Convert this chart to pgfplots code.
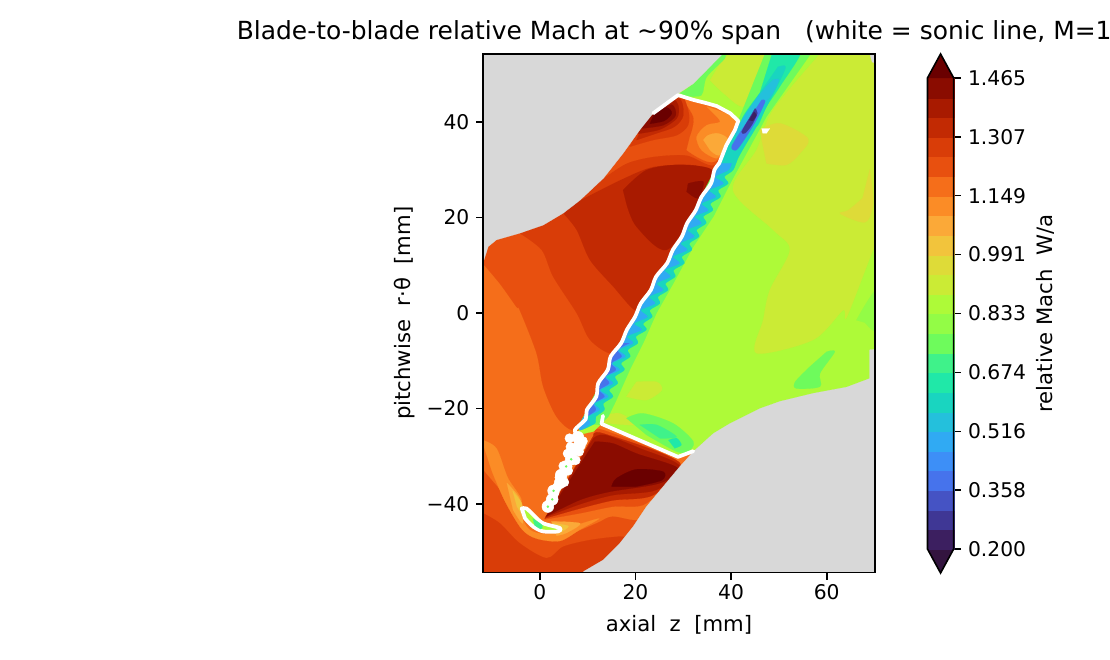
\documentclass[border=0pt]{standalone}
\usepackage{fontspec}
\setmainfont{DejaVu Sans}
\usepackage{pgfplots}
\pgfplotsset{compat=1.18}

% contour levels, bottom to top
\definecolor{cbunder}{HTML}{33143F}
\definecolor{cb0}{HTML}{3C1F60}
\definecolor{cb1}{HTML}{3F3795}
\definecolor{cb2}{HTML}{4553C4}
\definecolor{cb3}{HTML}{4673EC}
\definecolor{cb4}{HTML}{3D8FF7}
\definecolor{cb5}{HTML}{30AAF3}
\definecolor{cb6}{HTML}{24C0DC}
\definecolor{cb7}{HTML}{19D5C0}
\definecolor{cb8}{HTML}{20E8A8}
\definecolor{cb9}{HTML}{3FF28A}
\definecolor{cb10}{HTML}{6EFB5C}
\definecolor{cb11}{HTML}{93FC46}
\definecolor{cb12}{HTML}{AEFA38}
\definecolor{cb13}{HTML}{CBEB35}
\definecolor{cb14}{HTML}{DEDB38}
\definecolor{cb15}{HTML}{F2C43C}
\definecolor{cb16}{HTML}{FBA938}
\definecolor{cb17}{HTML}{FB8C26}
\definecolor{cb18}{HTML}{F56E1A}
\definecolor{cb19}{HTML}{E8500F}
\definecolor{cb20}{HTML}{D93D08}
\definecolor{cb21}{HTML}{C22A03}
\definecolor{cb22}{HTML}{A81A00}
\definecolor{cb23}{HTML}{8A0C00}
\definecolor{cbover}{HTML}{6A0000}
\definecolor{maskgray}{HTML}{D8D8D8}

\pgfplotsset{
  reg/.style={fill=#1,draw=#1,line width=.1pt},
  sreg/.style={fill=#1,draw=#1,line width=.1pt,smooth,tension=0.5},
  sonic/.style={white,line width=2.8pt,line join=round,line cap=round},
}

\begin{document}
\begin{tikzpicture}
\begin{axis}[
    at={(362.25pt,65.6pt)}, anchor=south west,
    scale only axis, width=294pt, height=388.9pt,
    xmin=-11.9, xmax=70.1, ymin=-54.3, ymax=54.2,
    xtick={0,20,40,60}, xticklabels={0,20,40,60},
    ytick={-40,-20,0,20,40}, yticklabels={−40,−20,0,20,40},
    tick align=outside, tick pos=left,
    major tick length=5.25pt,
    tick style={black,line width=1.2pt},
    axis line style={line width=1.2pt},
    axis on top,
    axis background/.style={fill=maskgray},
    tick label style={font=\fontsize{15.2}{18}\selectfont},
    yticklabel style={xshift=-1.5pt},
    title={Blade-to-blade relative Mach at \textasciitilde90\% span\ \ \ (white = sonic line, M=1)},
    title style={font=\fontsize{18.7}{22}\selectfont,at={(axis description cs:0.5,1.0405)},anchor=center,yshift=-6pt},
    xlabel={axial\ \ z\ \ [mm]},
    xlabel style={font=\fontsize{15.9}{18}\selectfont,at={(axis description cs:0.5,-0.101)},anchor=center},
    ylabel={pitchwise\ \ r·θ\ \ [mm]},
    ylabel style={font=\fontsize{15.9}{18}\selectfont,at={(axis description cs:-0.199,0.5)},anchor=center},
]
% upstream side
\addplot[reg=cb18] coordinates {(-13,-56)(50,-56)(50,56)(-13,56)} --cycle;
\addplot[sreg=cb19] coordinates {(-12.55,11.1)(-8.4,6.2)(-4.9,1.3)(-4.2,0.6)(-0.7,-8.4)(0.7,-15.4)(3.5,-21.7)(7,-24.5)(10.5,-21)(29.3,6.2)(43.2,41.1)(36.3,55)(-12.55,55)} --cycle;
\addplot[sreg=cb20] coordinates {(-4.2,16.7)(0.4,13.2)(2.8,7.6)(7.7,0)(10.5,-5.6)(15,-8.4)(18.1,-4.3)(43.2,41.1)(36.3,55)(-4.2,55)} --cycle;
\addplot[sreg=cb21] coordinates {(4.9,20.9)(7.7,17.4)(10.5,11.1)(15.4,5.5)(19.9,0.6)(21.6,3.1)(43.2,41.1)(36.3,55)(4.9,55)} --cycle;
\addplot[sreg=cb20] coordinates {(8.4,23.6)(16.7,27.8)(23.7,30.6)(32.1,31)(36.3,29.6)(39.8,37.6)(22.3,41.1)(8.4,30.6)} --cycle;
\addplot[sreg=cb19] coordinates {(13.3,28.2)(18.1,31.3)(23.7,32.7)(30.7,33)(36.6,31)(40.4,37.6)(29.3,46.7)(15.3,34.1)} --cycle;
\addplot[sreg=cb18] coordinates {(30.7,34.1)(36.6,31.7)(42.5,40.4)(35.6,46)(28.6,47.4)(32.1,41.1)(31.4,36.9)} --cycle;
\addplot[sreg=cb20] coordinates {(18.8,34.8)(23.7,36.2)(28.6,37.2)(31,39.3)(31,42.5)(28.9,46)(22.3,41.8)} --cycle;
\addplot[sreg=cb21] coordinates {(20.2,36.2)(24.4,37.6)(28.2,39)(30,41.4)(28.9,44.9)(22.3,41.1)} --cycle;
\addplot[sreg=cb22] coordinates {(20.4,37.5)(25.1,38.4)(28.6,40.7)(29,43.2)(27.6,44.6)(22.7,41)} --cycle;
\addplot[sreg=cb23] coordinates {(21,38.6)(25.8,39.3)(28.4,41.3)(27.6,43.6)(24,42)} --cycle;
\addplot[sreg=cbover] coordinates {(23,39.6)(26,40.2)(27.6,41.8)(26.5,43)(24,41.8)} --cycle;
\addplot[sreg=cb17] coordinates {(34.9,43.2)(39.8,41.4)(41.1,40.2)(38.7,35.5)(37.1,32.4)(33.8,34.1)(32.8,36.9)(34.9,39.3)(37.7,40)(36.3,41.8)} --cycle;
\addplot[sreg=cb16] coordinates {(34.2,36.2)(35.2,37.2)(37.3,37.6)(39.4,36.2)(37.5,33)(35.6,34.1)} --cycle;
\addplot[sreg=cb22] coordinates {(17.4,25.7)(22.3,29.9)(29.3,31)(36.3,29.6)(32.8,22.3)(26.5,13.2)(20.2,18.1)(18.1,22.9)} --cycle;
\addplot[sreg=cb23] coordinates {(31,27.1)(34.2,27.5)(33.1,24)(30.7,25.4)} --cycle;
% below the leading edge
\addplot[sreg=cb19] coordinates {(-12.55,-31)(-11.9,-32.8)(-8.4,-37)(-5.6,-41.2)(-3.5,-45.4)(0,-46.8)(4.9,-46.8)(11.9,-44)(15.3,-42.6)(20.9,-44)(16.7,-49.6)(9.1,-54.5)(-12.55,-54.5)} --cycle;
\addplot[sreg=cb20] coordinates {(-11.9,-41.9)(-8.4,-44)(-4.2,-48.2)(1.4,-51.3)(4.9,-48.9)(10.5,-47.5)(16.7,-46.8)(18.1,-47.5)(13.9,-51)(9.1,-54.5)(-12.55,-54.5)} --cycle;
\addplot[sreg=cb17] coordinates {(-12.2,-26.5)(-9.1,-28.3)(-6.7,-34.5)(-3.9,-38.9)(-3.8,-42.6)(-2.1,-45.4)(1.4,-46.2)(6.9,-44.6)(12.4,-43)(8.4,-45.3)(4.2,-47.7)(-0.7,-47.2)(-3.8,-45.2)(-7.3,-39.4)(-10,-33.2)} --cycle;
\addplot[sreg=cb16] coordinates {(-6.9,-35.6)(-4.2,-38.9)(-3.6,-44)(-5.6,-41.2)} --cycle;
\addplot[sreg=cb15] coordinates {(-5.7,-37.2)(-3.8,-39.8)(-3.6,-42.2)(-4.8,-40.5)} --cycle;
\addplot[sreg=cb16] coordinates {(2.4,-43.6)(8.4,-44)(5.6,-46)(3.5,-46.6)} --cycle;
\addplot[sreg=cb15] coordinates {(2.8,-44)(6,-44.6)(4.2,-46)} --cycle;
% wedge under the passage shock
\addplot[sreg=cb18] coordinates {(0.7,-43.4)(12.6,-23.4)(29.3,-30.4)(22.3,-41.2)(20.2,-43.3)(14,-42.3)(7,-43)} --cycle;
\addplot[sreg=cb19] coordinates {(1,-43.2)(8.4,-41.9)(15.3,-40.5)(22.3,-39.8)(28.6,-31.4)(13.3,-24.5)(11.5,-25.2)} --cycle;
\addplot[sreg=cb21] coordinates {(1,-43)(8.4,-40.9)(15.3,-39.2)(23.7,-38.1)(29.3,-31.4)(13.3,-25.2)(11.2,-25.7)} --cycle;
\addplot[sreg=cb22] coordinates {(1.2,-42.7)(8.4,-40)(15.3,-38.1)(24.4,-37)(29.3,-32.1)(20.9,-28.3)(13.6,-25.5)(11.2,-26.2)} --cycle;
\addplot[sreg=cb23] coordinates {(1.4,-42.5)(8.4,-39.1)(14.6,-37.4)(25.1,-35.6)(28.9,-32.5)(20.2,-29.4)(15.3,-27.3)(11.5,-26.9)} --cycle;
\addplot[sreg=cbover] coordinates {(15,-36.3)(16,-34.6)(20.2,-32.7)(25.8,-33.2)(25.5,-35)(20.2,-36.3)} --cycle;
% downstream side
\addplot[reg=cb12] coordinates {(28.9,45.9)(34.9,43.9)(39.8,41.8)(41.5,40.2)(39,35.1)(37.3,31.3)(36.6,29.9)(35.6,27.1)(34,24.3)(32.4,21.5)(31,18.8)(29.5,16)(28,13.2)(26.4,10.4)(24.5,7.6)(23,4.8)(21.3,2)(19.7,-0.8)(18.5,-3.5)(16.7,-6.3)(15.1,-9.1)(13.9,-11.9)(12.5,-14.7)(11.5,-17.5)(10.1,-20.3)(8.4,-23.1)(8,-25.5)(11.2,-24.8)(12.9,-23.2)(28.9,-30.1)(32.1,-29)(75,-29)(75,60)(28.9,60)} --cycle;
\addplot[sreg=cb13] coordinates {(37.7,52.2)(40.4,54.5)(47.4,54.5)(44.6,48.1)(42.5,43.2)(38.4,46)(35.6,48.7)} --cycle;
\addplot[sreg=cb10] coordinates {(29.3,46)(32.1,48)(37.7,54)(38.7,53.3)(34.9,49.4)(33.8,45.6)(30.7,45.4)} --cycle;
\addplot[sreg=cb13] coordinates {(59.3,55)(48.8,42.5)(45.3,34.1)(40.4,25.7)(48.8,17.4)(52.3,13.2)(48.1,4.8)(46.7,-1.5)(45.3,-8.4)(57.2,-5.6)(63.4,0.6)(64.2,-0.8)(69.7,13.2)(70.5,13.9)(71,56)} --cycle;
\addplot[sreg=cb14] coordinates {(46,38.3)(50.2,39.7)(56.1,36.5)(54.4,33.4)(51.6,31)(47.4,31.3)} --cycle;
\addplot[sreg=cb14] coordinates {(69,30)(69.7,23)(68,19)(62.8,20.8)(64.5,21.5)(67.5,24)} --cycle;
\addplot[sreg=cb11] coordinates {(66.2,-1.5)(70.4,4.8)(70.4,-3.6)(68,-2)} --cycle;
\addplot[sreg=cb10] coordinates {(60,-8.1)(61.7,-8.1)(58.6,-12.6)(58.6,-15.4)(53.7,-15.8)(53.4,-14.4)(56.5,-11.2)} --cycle;
\addplot[sreg=cb13] coordinates {(20.2,-14.4)(24.4,-14.4)(25.5,-16.1)(22.3,-18.2)(18.1,-17.5)} --cycle;
\addplot[sreg=cb13] coordinates {(13.4,-21.5)(16.7,-21)(20.2,-23.4)(13.4,-23)} --cycle;
\addplot[sreg=cb10] coordinates {(18.1,-22)(21.6,-21)(27.9,-23.1)(32.1,-26.9)(31,-29)(28.6,-29)(22.3,-25.5)} --cycle;
\addplot[sreg=cb9] coordinates {(20.9,-23.4)(24.4,-23.4)(28.6,-25.9)(25.1,-26.2)} --cycle;
\addplot[sreg=cb8] coordinates {(26.9,-26.6)(28.6,-26.2)(29.6,-27.6)(28.2,-28.3)} --cycle;
% wake stripe behind the shock
\addplot[reg=cb10] coordinates {(47.4,55)(57.2,55)(47.4,41.1)(43.2,33.4)(39.8,27.1)(36.3,20.2)(32.1,13.9)(27.9,6.2)(24.4,0)(21.6,-6.3)(18.8,-11.9)(16,-18.2)(14.3,-21.7)(12.6,-23.4)(8.4,-23.1)(19.7,-0.8)(28,13.2)(37.3,31.3)(41.5,40.2)} --cycle;
\addplot[sreg=cb8] coordinates {(48.8,55)(54.7,55)(50.2,47.4)(47.4,43.2)(45.3,39)(42.2,40.4)(46,46)} --cycle;
\addplot[sreg=cb7] coordinates {(49.8,51.5)(51.4,51.5)(49.5,47.2)(47.4,43.2)(45.3,39)(43.2,35.5)(41.5,32.5)(40.4,29.9)(38.6,28.5)(39.4,27.1)(37.3,25.7)(37.8,24.3)(35.7,22.9)(36.2,21.5)(34.2,20.2)(34.8,18.8)(32.8,17.4)(33.3,16)(31.3,14.6)(31.8,13.2)(29.7,11.8)(30.2,10.4)(28,9)(28.3,7.6)(26.3,6.2)(26.8,4.8)(24.7,3.4)(25.1,2)(23,0.6)(23.5,-0.8)(21.6,-2.2)(22.3,-3.5)(20.1,-4.9)(20.5,-6.3)(18.4,-7.7)(18.9,-9.1)(17,-10.5)(17.7,-11.9)(15.7,-13.3)(16.3,-14.7)(14.5,-16.1)(15.3,-17.5)(13.3,-18.9)(13.5,-20.3)(11.7,-21.7)(11.5,-23.1)(8.4,-24.5)(8.4,-23.1)(10.1,-20.3)(11.5,-17.5)(12.5,-14.7)(13.9,-11.9)(15.1,-9.1)(16.7,-6.3)(18.5,-3.5)(19.7,-0.8)(21.3,2)(23,4.8)(24.5,7.6)(26.4,10.4)(28,13.2)(29.5,16)(31,18.8)(32.4,21.5)(34,24.3)(35.6,27.1)(37.3,31.3)(39,35.1)(41.5,39)(43.2,41.8)(46,46)} --cycle;
\addplot[sreg=cb6] coordinates {(48.8,48.8)(50,48.8)(48.6,45.8)(46.7,43.4)(43.9,38.5)(41.8,35.6)(41.1,38.3)(44.6,43.9)(47.4,47.4)} --cycle;
\addplot[sreg=cb5] coordinates {(40.1,31.3)(39.4,29.9)(36.7,28.5)(38.4,27.1)(35.4,25.7)(36.8,24.3)(33.8,22.9)(35.2,21.5)(32.3,20.2)(33.8,18.8)(30.9,17.4)(32.3,16)(29.4,14.6)(30.8,13.2)(27.8,11.8)(29.2,10.4)(26.1,9)(27.3,7.6)(24.4,6.2)(25.8,4.8)(22.8,3.4)(24.1,2)(21.1,0.6)(22.5,-0.8)(19.7,-2.2)(21.3,-3.5)(18.2,-4.9)(19.5,-6.3)(16.5,-7.7)(17.9,-9.1)(15.1,-10.5)(16.7,-11.9)(13.8,-13.3)(15.3,-14.7)(12.6,-16.1)(14.3,-17.5)(11.4,-18.9)(12.5,-20.3)(9.8,-21.7)(10.5,-23.1)(8.4,-24.5)(8.4,-23.1)(10.1,-20.3)(11.5,-17.5)(12.5,-14.7)(13.9,-11.9)(15.1,-9.1)(16.7,-6.3)(18.5,-3.5)(19.7,-0.8)(21.3,2)(23,4.8)(24.5,7.6)(26.4,10.4)(28,13.2)(29.5,16)(31,18.8)(32.4,21.5)(34,24.3)(35.6,27.1)(37.3,31.3)} --cycle;
\addplot[sreg=cb3] coordinates {(18.7,-6.3)(16.2,-7.7)(17.1,-9.1)(14.9,-10.5)(15.9,-11.9)(13.6,-13.3)(14.5,-14.7)(12.4,-16.1)(13.5,-17.5)(11.2,-18.9)(11.7,-20.3)(9.6,-21.7)(10.1,-20.3)(11.5,-17.5)(12.5,-14.7)(13.9,-11.9)(15.1,-9.1)(16.7,-6.3)} --cycle;
\addplot[sreg=cb3] coordinates {(46.4,44.6)(47.1,44.2)(45.3,40.4)(42.9,36.5)(41.1,34.1)(40.1,34.8)(42.2,38.3)(44.3,41.4)} --cycle;
\addplot[sreg=cb1] coordinates {(45,42.8)(45.5,41.8)(44.3,39.3)(42.9,37.6)(42.2,37.9)(43.6,40.4)} --cycle;
\addplot[sreg=cb0] coordinates {(44.8,42.1)(45.3,41.4)(44.5,40.2)(43.8,40.4)} --cycle;
% no-data masks
\addplot[reg=maskgray] coordinates {(-13,56)(-13,11.1)(-11.7,11.1)(-10.8,13.9)(-9.1,15.3)(-4.2,16.7)(0.7,18.4)(4.9,20.9)(8.4,23.6)(13.3,28.2)(17.4,33.4)(20.9,38.3)(23.7,41.8)(28.9,45.9)(32.1,48)(38,54)(38.6,56)} --cycle;
\addplot[reg=maskgray] coordinates {(71,-7.5)(69,-7.7)(69,-13.7)(64.2,-15.5)(57.2,-16.8)(50.2,-18.5)(46,-20)(39.8,-23.1)(36.3,-25.2)(32.1,-29)(29.3,-32.1)(25.8,-36.3)(22.3,-40.5)(19.5,-44.7)(16.7,-48.2)(13.2,-51.7)(9.1,-54.1)(9.1,-56)(71,-56)} --cycle;
\addplot[reg=maskgray] coordinates {(68.8,55)(71,55)(71,52)(69.5,52.5)} --cycle;
% sonic line
\addplot[sonic] coordinates {(23.7,41.8)(28.9,45.6)(32.1,44.6)(34.9,43.9)(37,43.3)(39.8,41.8)(41.5,40.2)(40.8,38.3)(39,35.1)(37.5,31.3)};
\addplot[sonic,smooth,tension=0.5] coordinates {(37.5,31.3)(36.5,29.9)(35.8,27.1)(33.8,24.3)(32.6,21.5)(30.8,18.8)(29.7,16)(27.8,13.2)(26.6,10.4)(24.3,7.6)(23.2,4.8)(21.1,2)(19.9,-0.8)(18.2,-3.5)(17,-6.3)(14.8,-9.1)(14.2,-11.9)(12.2,-14.7)(11.8,-17.5)(9.8,-20.3)(9.6,-22.2)(7.3,-24.5)(8.4,-26)};
\addplot[sonic] coordinates {(13.2,-21.5)(12.9,-23.2)(28.9,-30.1)(32.1,-28.9)};
\addplot[only marks,mark=*,mark size=4.4pt,color=white,mark options={draw=white}] coordinates {(1.67,-40.5)(2.58,-39)(2.86,-37.2)(4.25,-35.5)(4.46,-33.9)(5.5,-32.1)(6.55,-30.6)(6.76,-29)(8.3,-27.6)(7.95,-26)};
\addplot[only marks,mark=*,mark size=3.4pt,color=white,mark options={draw=white}] coordinates {(2,-39.8)(3,-37.8)(3.6,-36.4)(5.1,-35.4)(4.1,-34.4)(5.9,-33)(4.9,-32)(7.5,-30.8)(5.8,-29.4)(8.2,-29)(6.4,-28)(9,-26.8)(6.2,-26.2)};
\addplot[only marks,mark=*,mark size=0.7pt,color=cb10,mark options={draw=cb10}] coordinates {(1.67,-40.5)(2.58,-39)(2.86,-37.2)(5.5,-32.1)(6.55,-30.6)};
\addplot[reg=white] coordinates {(46.4,38.6)(48.1,38.6)(47.4,37.6)(46.6,37.6)} --cycle;
% separation bubble at the leading edge
\addplot[sonic,fill=cb12,smooth,tension=0.5] coordinates {(-3.8,-40.9)(-2.8,-40.9)(-1,-42.6)(0.7,-44)(4.2,-45)(3.8,-45.7)(0.7,-45.7)(-1.4,-44.7)(-3.1,-43)} --cycle;
\addplot[sreg=cb9] coordinates {(-1.5,-43)(0.5,-44.4)(0.2,-45.2)(-1.1,-44.4)} --cycle;
\end{axis}

% colorbar
\begin{axis}[
    at={(695.6pt,83.25pt)}, anchor=south west,
    scale only axis, width=19.65pt, height=353.25pt,
    xmin=0, xmax=1, ymin=0.2, ymax=1.465,
    clip=false,
    hide x axis,
    axis y line*=right,
    axis line style={draw=none},
    ytick={0.2,0.358,0.516,0.674,0.833,0.991,1.149,1.307,1.465},
    yticklabels={0.200,0.358,0.516,0.674,0.833,0.991,1.149,1.307,1.465},
    tick align=outside,
    major tick length=5.25pt,
    tick style={black,line width=1.2pt},
    tick label style={font=\fontsize{15.2}{18}\selectfont},
    yticklabel style={xshift=2pt},
]
\addplot[reg=cbunder] coordinates {(0,0.2)(0.5,0.1355)(1,0.2)} --cycle;
\addplot[reg=cb0] coordinates {(0,0.2)(1,0.2)(1,0.2527)(0,0.2527)} --cycle;
\addplot[reg=cb1] coordinates {(0,0.2527)(1,0.2527)(1,0.3054)(0,0.3054)} --cycle;
\addplot[reg=cb2] coordinates {(0,0.3054)(1,0.3054)(1,0.3581)(0,0.3581)} --cycle;
\addplot[reg=cb3] coordinates {(0,0.3581)(1,0.3581)(1,0.4108)(0,0.4108)} --cycle;
\addplot[reg=cb4] coordinates {(0,0.4108)(1,0.4108)(1,0.4635)(0,0.4635)} --cycle;
\addplot[reg=cb5] coordinates {(0,0.4635)(1,0.4635)(1,0.5163)(0,0.5163)} --cycle;
\addplot[reg=cb6] coordinates {(0,0.5163)(1,0.5163)(1,0.5690)(0,0.5690)} --cycle;
\addplot[reg=cb7] coordinates {(0,0.5690)(1,0.5690)(1,0.6217)(0,0.6217)} --cycle;
\addplot[reg=cb8] coordinates {(0,0.6217)(1,0.6217)(1,0.6744)(0,0.6744)} --cycle;
\addplot[reg=cb9] coordinates {(0,0.6744)(1,0.6744)(1,0.7271)(0,0.7271)} --cycle;
\addplot[reg=cb10] coordinates {(0,0.7271)(1,0.7271)(1,0.7798)(0,0.7798)} --cycle;
\addplot[reg=cb11] coordinates {(0,0.7798)(1,0.7798)(1,0.8325)(0,0.8325)} --cycle;
\addplot[reg=cb12] coordinates {(0,0.8325)(1,0.8325)(1,0.8852)(0,0.8852)} --cycle;
\addplot[reg=cb13] coordinates {(0,0.8852)(1,0.8852)(1,0.9379)(0,0.9379)} --cycle;
\addplot[reg=cb14] coordinates {(0,0.9379)(1,0.9379)(1,0.9906)(0,0.9906)} --cycle;
\addplot[reg=cb15] coordinates {(0,0.9906)(1,0.9906)(1,1.0433)(0,1.0433)} --cycle;
\addplot[reg=cb16] coordinates {(0,1.0433)(1,1.0433)(1,1.0960)(0,1.0960)} --cycle;
\addplot[reg=cb17] coordinates {(0,1.0960)(1,1.0960)(1,1.1488)(0,1.1488)} --cycle;
\addplot[reg=cb18] coordinates {(0,1.1488)(1,1.1488)(1,1.2015)(0,1.2015)} --cycle;
\addplot[reg=cb19] coordinates {(0,1.2015)(1,1.2015)(1,1.2542)(0,1.2542)} --cycle;
\addplot[reg=cb20] coordinates {(0,1.2542)(1,1.2542)(1,1.3069)(0,1.3069)} --cycle;
\addplot[reg=cb21] coordinates {(0,1.3069)(1,1.3069)(1,1.3596)(0,1.3596)} --cycle;
\addplot[reg=cb22] coordinates {(0,1.3596)(1,1.3596)(1,1.4123)(0,1.4123)} --cycle;
\addplot[reg=cb23] coordinates {(0,1.4123)(1,1.4123)(1,1.465)(0,1.465)} --cycle;
\addplot[reg=cbover] coordinates {(0,1.465)(0.5,1.5295)(1,1.465)} --cycle;
\addplot[black,line width=1.2pt,line join=miter] coordinates {(0,0.2)(0.5,0.1355)(1,0.2)(1,1.465)(0.5,1.5295)(0,1.465)} --cycle;
\node[rotate=90,font=\fontsize{15.9}{18}\selectfont] at (axis description cs:4.52,0.5) {relative Mach\ \ W/a};
\end{axis}

\pgfresetboundingbox
\path[use as bounding box] (0,0) rectangle (832.5pt,495pt);
\end{tikzpicture}
\end{document}
